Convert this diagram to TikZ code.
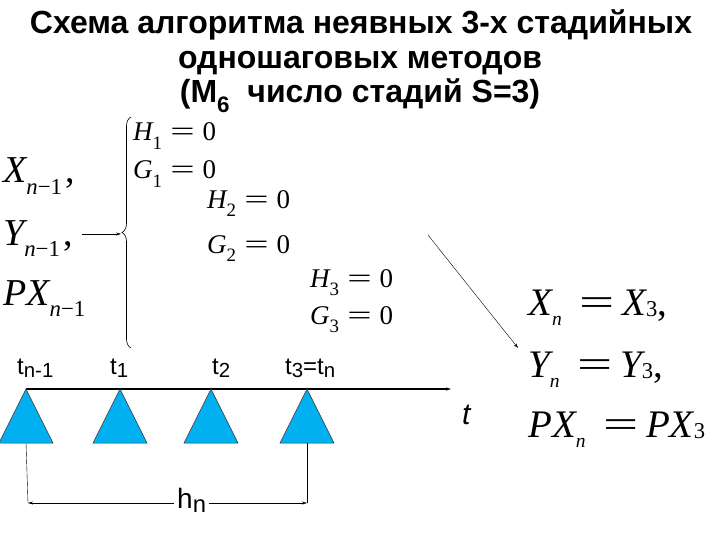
\documentclass[tikz,border=0pt]{standalone}
\usepackage{fontspec}
\usepackage{graphicx}
\setmainfont{Liberation Sans}
\newfontfamily\ser{Liberation Serif}
\newfontfamily\titlefont{Liberation Sans}
\usetikzlibrary{arrows.meta,decorations.pathreplacing}

\definecolor{stagecol}{RGB}{0,176,240}
% lowering, scale, text
\newcommand{\lowsub}[3]{\raisebox{-#1}{\scalebox{#2}{#3}}}
\newcommand{\tsub}[1]{\raisebox{-0.15em}{\scalebox{0.85}{#1}}}
\newcommand{\eqsign}{\scalebox{1.6}[1]{=}}

\tikzset{
	headline/.style={font=\titlefont\bfseries\fontsize{32}{32}\selectfont, anchor=base, inner sep=0pt},
	oldval/.style={font=\ser\fontsize{38}{38}\selectfont, anchor=base west, inner sep=0pt},
	eqn/.style={font=\ser\fontsize{27}{27}\selectfont, anchor=base west, inner sep=0pt},
	newval/.style={font=\ser\fontsize{39}{39}\selectfont, anchor=base west, inner sep=0pt},
	tlabel/.style={font=\fontsize{24}{24}\selectfont, anchor=base west, inner sep=0pt},
	tinytip/.style={-{Stealth[length=5pt,width=3pt]}},
}
\newcommand{\stageeq}[2]{\itshape #1\lowsub{0.3em}{0.7}{\upshape #2}\hspace{0.3em}\upshape\eqsign\hspace{0.3em}0}
\newcommand{\resulteq}[2]{\itshape #1\lowsub{0.27em}{0.5}{n}\hspace{0.45em}\upshape\eqsign\hspace{0.2em}\itshape #1\lowsub{0.05em}{0.58}{\upshape 3}\upshape#2}

\begin{document}
\begin{tikzpicture}[x=1pt,y=-1pt]
	\useasboundingbox (0,0) rectangle (720,540);
	\node[headline] (title1) at (361,34) {Схема алгоритма неявных 3-х стадийных};
	\node[headline] (title2) at (360,69) {одношаговых методов};
	\node[headline] (title3) at (360,103) {(M\lowsub{0.3em}{0.7}{6}\ \ число стадий S=3)};

	% values from the previous step
	\node[oldval] (Xprev) at (3,183) {\itshape X\lowsub{0.3em}{0.6}{n\upshape −1}\hspace{0.1em}\upshape,};
	\node[oldval] (Yprev) at (3,245) {\itshape Y\lowsub{0.3em}{0.6}{n\upshape −1}\hspace{0.1em}\upshape,};
	\node[oldval] (PXprev) at (3,305) {\itshape PX\lowsub{0.3em}{0.6}{n\upshape −1}};

	\coordinate (brtip) at (121,234);
	\draw[decorate, decoration={brace, amplitude=9pt}, line width=0.6pt] (131,348) -- (131,117);
	\draw[tinytip] (82,234) -- (brtip);

	% stage equations
	\node[eqn] (H1) at (133,141) {\stageeq{H}{1}};
	\node[eqn] (G1) at (133,179) {\stageeq{G}{1}};
	\node[eqn] (H2) at (207,208) {\stageeq{H}{2}};
	\node[eqn] (G2) at (207,253) {\stageeq{G}{2}};
	\node[eqn] (H3) at (310,287) {\stageeq{H}{3}};
	\node[eqn] (G3) at (310,324) {\stageeq{G}{3}};

	% result of the step
	\coordinate (diagA) at (428,235);
	\coordinate (diagB) at (518,348);
	\draw[tinytip] (diagA) -- (diagB);
	\node[newval] (Xn) at (528,315) {\resulteq{X}{,}};
	\node[newval] (Yn) at (528,377) {\resulteq{Y}{,}};
	\node[newval] (PXn) at (528,437) {\resulteq{PX}{}};

	% time axis and stages
	\coordinate (axstart) at (26,389);
	\coordinate (axend) at (451,389);
	\draw[tinytip, line width=1.5pt] (axstart) -- (axend);
	\node[tlabel, font=\itshape\fontsize{30}{30}\selectfont] (taxis) at (462,424) {t};
	\foreach \name/\xa in {tri0/26, tri1/120, tri2/211, tri3/307} {
		\filldraw[fill=stagecol, draw=black!80, line width=0.5pt] (\xa,389) -- (\xa+27,443) -- (\xa-27,443) -- cycle;
		\coordinate (\name) at (\xa,443);
	}
	\node[tlabel] (tl0) at (17,374) {t\tsub{n-1}};
	\node[tlabel] (tl1) at (110,374) {t\tsub{1}};
	\node[tlabel] (tl2) at (212,374) {t\tsub{2}};
	\node[tlabel] (tl3) at (285,374) {t\tsub{3}=t\tsub{n}};

	% step size
	\node[tlabel, font=\fontsize{28}{28}\selectfont, inner xsep=3pt] (hn) at (174,508) {h\tsub{n}};
	\coordinate (hL) at (28,503);
	\coordinate (hR) at (307,503);
	\draw (tri0) -- (hL);
	\draw (tri3) -- (hR);
	\draw[tinytip] (hn.west |- hL) -- (hL);
	\draw[tinytip] (hn.east |- hR) -- (hR);
\end{tikzpicture}
\end{document}
